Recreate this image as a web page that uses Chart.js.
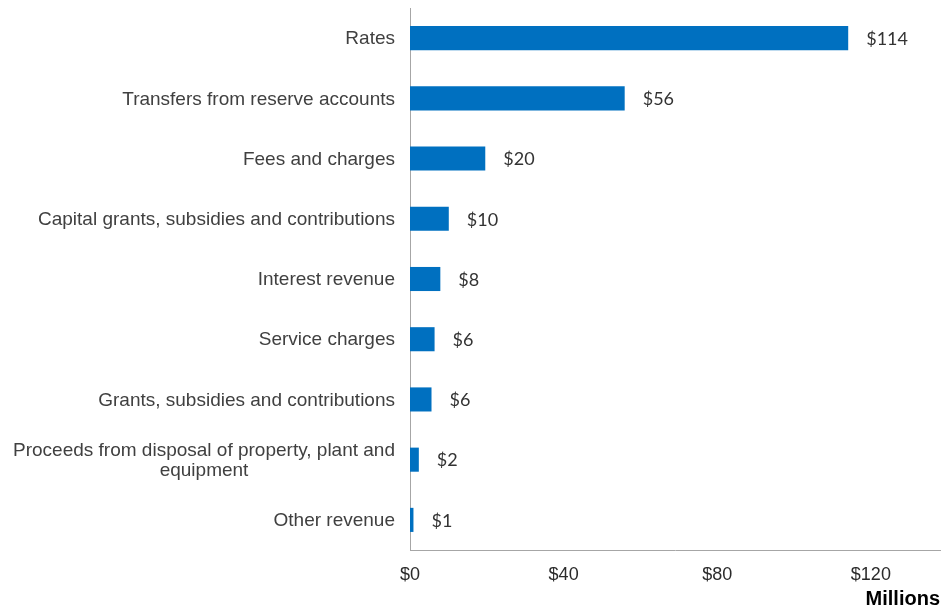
<!DOCTYPE html>
<html>
<head>
<meta charset="utf-8">
<script src="https://cdn.jsdelivr.net/npm/chart.js@4"></script>
<style>
  html, body { margin: 0; padding: 0; background: #fff; }
  #wrap { width: 943px; height: 609px; }
</style>
</head>
<body>
<div id="wrap"><canvas id="revenueChart" width="943" height="609"></canvas></div>
<script>
// Revenue sources, in millions
const categories = [
    'Rates',
    'Transfers from reserve accounts',
    'Fees and charges',
    'Capital grants, subsidies and contributions',
    'Interest revenue',
    'Service charges',
    'Grants, subsidies and contributions',
    ['Proceeds from disposal of property, plant and', 'equipment'],
    'Other revenue'
];
const revenue = [114.1, 55.9, 19.6, 10.1, 7.9, 6.4, 5.6, 2.3, 0.9];
const tickValues = [0, 40, 80, 120];

// value labels at the end of each bar
const barLabels = {
    id: 'barLabels',
    afterDatasetsDraw(chart) {
        const ctx = chart.ctx;
        const meta = chart.getDatasetMeta(0);
        ctx.save();
        ctx.font = '18px Lato';
        ctx.fillStyle = '#333333';
        ctx.textAlign = 'left';
        ctx.textBaseline = 'middle';
        meta.data.forEach((bar, i) => {
            ctx.fillText('$' + Math.round(revenue[i]), bar.x + 18, bar.y + 1);
        });
        ctx.restore();
    }
};

// category labels: block right aligned, lines centred on each other
const categoryLabels = {
    id: 'categoryLabels',
    afterDraw(chart) {
        const ctx = chart.ctx;
        const y = chart.scales.y;
        const right = y.right - 15;
        ctx.save();
        ctx.font = '19px "Liberation Sans"';
        ctx.fillStyle = '#404040';
        ctx.textAlign = 'center';
        ctx.textBaseline = 'middle';
        categories.forEach((label, i) => {
            const lines = Array.isArray(label) ? label : [label];
            const w = Math.max(...lines.map(l => ctx.measureText(l).width));
            const cy = y.getPixelForValue(i) + 1;
            const lh = 20;
            lines.forEach((line, j) => {
                ctx.fillText(line, right - w / 2, cy + (j - (lines.length - 1) / 2) * lh);
            });
        });
        ctx.restore();
    }
};

new Chart(document.getElementById('revenueChart').getContext('2d'), {
    type: 'bar',
    data: {
        labels: categories,
        datasets: [{
            data: revenue,
            backgroundColor: '#0070C0',
            categoryPercentage: 1,
            barPercentage: 0.4
        }]
    },
    options: {
        indexAxis: 'y',
        responsive: false,
        animation: false,
        layout: { padding: { top: 8, right: 3, left: 0, bottom: 0 } },
        plugins: {
            legend: { display: false },
            tooltip: { enabled: false }
        },
        scales: {
            x: {
                min: 0,
                max: 138,
                afterFit: s => { s.height = 59; },
                afterBuildTicks: s => { s.ticks = tickValues.map(v => ({ value: v })); },
                grid: { display: false, drawTicks: false },
                border: { display: true, color: '#a6a6a6', width: 1 },
                ticks: {
                    padding: 14,
                    color: '#2b2b2b',
                    font: { family: 'Liberation Sans', size: 18 },
                    callback: v => '$' + v
                },
                title: {
                    display: true,
                    text: 'Millions',
                    align: 'end',
                    color: '#000000',
                    font: { family: 'Liberation Sans', size: 20, weight: 'bold' },
                    padding: { top: 0, bottom: -2 }
                }
            },
            y: {
                afterFit: s => { s.width = 410; },
                grid: { display: false, drawTicks: false },
                border: { display: true, color: '#a6a6a6', width: 1 },
                ticks: { display: false }
            }
        }
    },
    plugins: [barLabels, categoryLabels]
});
</script>
</body>
</html>
